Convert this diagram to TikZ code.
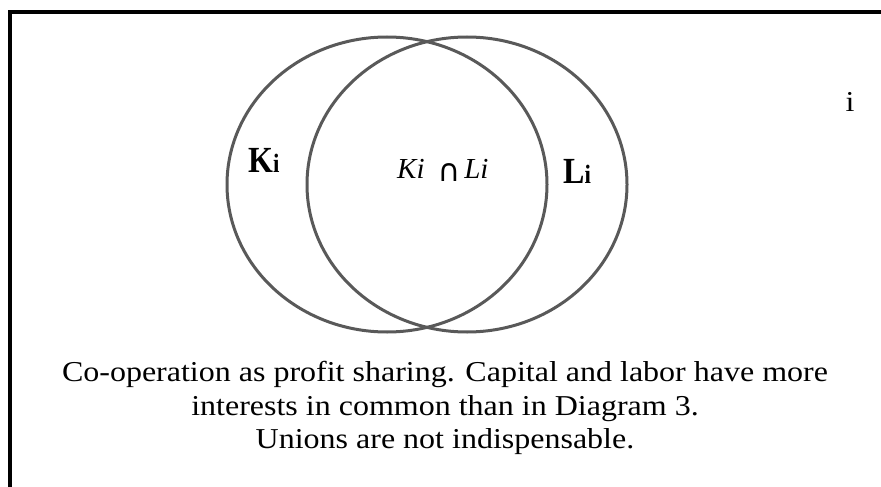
\documentclass[tikz,border=0pt]{standalone}
\usepackage{fontspec}
\setmainfont{Liberation Serif}
\newfontfamily\symfnt{DejaVu Sans}
\definecolor{ringgray}{RGB}{89,89,89}
\tikzset{
  ring/.style={draw=ringgray, line width=3pt},
  frameline/.style={draw=black, line width=4pt},
  captxt/.style={anchor=base, inner sep=0pt, font=\fontsize{32}{37}\selectfont},
  setlbl/.style={anchor=base west, inner sep=0pt},
}
\newcommand{\ysq}[1]{\scalebox{1}[0.9]{#1}}
\newcommand{\yst}[1]{\scalebox{1}[1.15]{#1}}
\begin{document}
\begin{tikzpicture}[x=1pt,y=-1pt]
\useasboundingbox (0,0) rectangle (881,487);
% frame (top and left edges)
\coordinate (fbl) at (10,489);
\coordinate (ftl) at (10,12);
\coordinate (ftr) at (883,12);
\draw[frameline] (fbl) -- (ftl) -- (ftr);
% sets
\draw[ring] (387,184.5) ellipse [x radius=160, y radius=147.5];
\draw[ring] (467,184.5) ellipse [x radius=160, y radius=147.5];
% labels
\node[setlbl] (K) at (248,172) {\yst{\fontsize{32}{32}\selectfont\bfseries K\fontsize{23}{23}\selectfont i}};
\node[setlbl] (L) at (563,183) {\yst{\fontsize{32}{32}\selectfont\bfseries L\fontsize{23}{23}\selectfont i}};
\node[setlbl] (KL) at (397,178) {\fontsize{29}{29}\selectfont\itshape Ki\hspace{13pt}\raisebox{-3pt}{\symfnt\fontsize{31}{31}\selectfont ∩}\hspace{4pt}Li};
\node[anchor=base, inner sep=0pt, font=\fontsize{32}{37}\selectfont] (ii) at (850,111) {\ysq{i}};
% caption
\node[captxt] (c1) at (445,381) {\ysq{Co-operation as profit sharing. Capital and labor have more}};
\node[captxt] (c2) at (445,415) {\ysq{interests in common than in Diagram 3.}};
\node[captxt] (c3) at (445,448) {\ysq{Unions are not indispensable.}};
\end{tikzpicture}
\end{document}
